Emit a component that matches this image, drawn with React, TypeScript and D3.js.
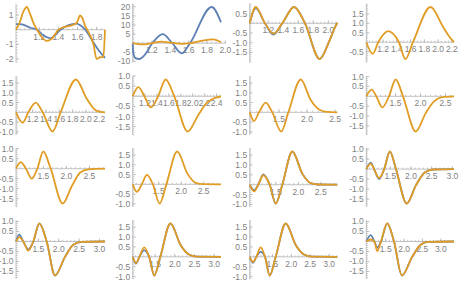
import React, { useEffect, useRef } from 'react';
import * as d3 from 'd3';

type Pt = [number, number];

// row 1
const p1Blue: Pt[] = [[0.957, 0.38], [1.0, 0.38], [1.05, 0.3], [1.1, 0.15], [1.18, 0], [1.245, -0.4], [1.31, -0.58], [1.37, -0.35], [1.42, 0], [1.5, 0.3], [1.59, 0.42], [1.63, 0.3], [1.68, 0], [1.75, -0.7], [1.82, -1.4], [1.887, -1.92]];
const p1Orange: Pt[] = [[0.957, 0], [0.99, 0.4], [1.035, 1.25], [1.069, 1.55], [1.1, 1.15], [1.14, 0.45], [1.178, 0], [1.225, -0.5], [1.278, -0.76], [1.33, -0.62], [1.4, 0], [1.47, 0.2], [1.55, 0.32], [1.595, 0.5], [1.626, 0.97], [1.65, 0.8], [1.68, 0.25], [1.7, 0], [1.765, -0.96], [1.8, -2.0], [1.835, -1.88], [1.87, -1.87], [1.887, 0]];
const p1XTicks = [1.2, 1.4, 1.6, 1.8];
const p1YTicks = [-2, -1, 1];

const p2Blue: Pt[] = [[0.99, 0], [0.995, -5], [1.02, -8.2], [1.06, -8.7], [1.12, -6.5], [1.204, 0], [1.317, 5.0], [1.422, 0], [1.524, -5.6], [1.615, 0], [1.851, 19.9], [1.953, 11.5]];
const p2Orange: Pt[] = [[0.99, 0], [1.088, -0.7], [1.2, 0], [1.3, 0.9], [1.38, 0.5], [1.45, 0], [1.524, -0.35], [1.615, 0], [1.75, 1.4], [1.869, 2.1], [1.953, 0.5]];
const p2XTicks = [1.2, 1.4, 1.6, 1.8, 2.0];
const p2YTicks = [-10, -5, 5, 10, 15, 20];

const p3Blue: Pt[] = [[0.952, 0], [1.032, 0.78], [1.156, 0], [1.267, -0.58], [1.387, 0], [1.543, 0.84], [1.689, 0], [1.885, -1.84], [2.01, -0.95], [2.09, -0.2], [2.12, 0.03]];
const p3Orange: Pt[] = [[0.952, 0], [1.032, 0.84], [1.156, 0], [1.267, -0.53], [1.387, 0], [1.543, 0.84], [1.689, 0], [1.885, -1.84], [2.01, -0.95], [2.09, -0.2], [2.12, 0.03]];
const p3XTicks = [1.2, 1.4, 1.6, 1.8, 2.0];
const p3YTicks = [-1.5, -1.0, -0.5, 0.5];

const p4Orange: Pt[] = [[0.957, 0], [1.05, -0.62], [1.13, 0], [1.273, 0.59], [1.43, 0], [1.525, -0.89], [1.634, 0], [1.89, 1.87], [2.07, 0.82], [2.16, 0.3], [2.23, 0]];
const p4XTicks = [1.2, 1.4, 1.6, 1.8, 2.0, 2.2];
const p4YTicks = [-0.5, 0.5, 1.0, 1.5];

// row 2
const p5Orange: Pt[] = [[0.95, 0], [1.05, -0.53], [1.135, 0], [1.246, 0.5], [1.35, 0], [1.5, -0.98], [1.62, 0], [1.85, 1.68], [2.01, 0.71], [2.136, 0.13], [2.22, 0.02], [2.286, 0]];
const p5XTicks = [1.2, 1.4, 1.6, 1.8, 2.0, 2.2];
const p5YTicks = [-1.0, -0.5, 0.5, 1.0, 1.5];

const p6Orange: Pt[] = [[0.994, 0], [1.088, 0.45], [1.19, 0], [1.3, -0.55], [1.42, 0], [1.547, 0.83], [1.69, 0], [1.915, -1.74], [2.093, -0.92], [2.234, -0.33], [2.373, -0.08], [2.473, -0.01]];
const p6XTicks = [1.2, 1.4, 1.6, 1.8, 2.0, 2.2, 2.4];
const p6YTicks = [-1.5, -1.0, -0.5, 0.5, 1.0];

const p7Orange: Pt[] = [[0.977, 0], [1.054, -0.44], [1.143, 0], [1.263, 0.5], [1.38, 0], [1.54, -0.98], [1.666, 0], [1.888, 1.68], [2.066, 0.63], [2.215, 0.15], [2.36, 0.02], [2.54, 0]];
const p7XTicks = [1.5, 2.0, 2.5];
const p7YTicks = [-1.0, -0.5, 0.5, 1.0, 1.5];

const p8Orange: Pt[] = [[0.916, 0], [1.024, 0.34], [1.116, 0], [1.236, -0.56], [1.37, 0], [1.504, 0.85], [1.65, 0], [1.904, -1.78], [2.104, -0.85], [2.27, -0.26], [2.436, -0.04], [2.67, 0]];
const p8XTicks = [1.5, 2.0, 2.5];
const p8YTicks = [-1.5, -1.0, -0.5, 0.5, 1.0];

// row 3
const p9Orange: Pt[] = [[0.906, 0], [1.008, 0.33], [1.123, 0], [1.247, -0.5], [1.369, 0], [1.5, 0.86], [1.66, 0], [1.921, -1.74], [2.117, -0.88], [2.297, -0.2], [2.478, -0.03], [2.84, 0]];
const p9XTicks = [1.5, 2.0, 2.5];
const p9YTicks = [-1.5, -1.0, -0.5, 0.5, 1.0];

const p10Orange: Pt[] = [[0.92, 0], [1.01, -0.38], [1.123, 0], [1.235, 0.48], [1.37, 0], [1.52, -0.98], [1.67, 0], [1.91, 1.68], [2.136, 0.56], [2.32, 0.08], [2.5, 0.01], [2.886, 0]];
const p10XTicks = [1.5, 2.0, 2.5];
const p10YTicks = [-1.0, -0.5, 0.5, 1.0, 1.5];

const p11Blue: Pt[] = [[0.92, 0], [1.016, -0.28], [1.11, 0], [1.222, 0.52], [1.364, 0], [1.498, -0.95], [1.645, 0], [1.867, 1.68], [2.089, 0.56], [2.276, 0.08], [2.45, 0.01], [2.867, 0]];
const p11Orange: Pt[] = [[0.92, 0], [1.016, -0.34], [1.11, 0], [1.222, 0.48], [1.364, 0], [1.498, -0.95], [1.645, 0], [1.867, 1.68], [2.089, 0.56], [2.276, 0.08], [2.45, 0.01], [2.867, 0]];
const p11XTicks = [1.5, 2.0, 2.5];
const p11YTicks = [-1.0, -0.5, 0.5, 1.0, 1.5];

const p12Blue: Pt[] = [[0.92, 0], [1.027, 0.32], [1.108, 0], [1.23, -0.5], [1.352, 0], [1.49, 0.88], [1.637, 0], [1.896, -1.72], [2.125, -0.79], [2.327, -0.18], [2.53, -0.02], [3.04, 0]];
const p12Orange: Pt[] = [[0.92, 0], [1.027, 0.27], [1.108, 0], [1.23, -0.45], [1.352, 0], [1.49, 0.88], [1.637, 0], [1.896, -1.72], [2.125, -0.79], [2.327, -0.18], [2.53, -0.02], [3.04, 0]];
const p12XTicks = [1.5, 2.0, 2.5, 3.0];
const p12YTicks = [-1.5, -1.0, -0.5, 0.5, 1.0];

// row 4
const p13Blue: Pt[] = [[0.95, 0], [1.031, 0.34], [1.129, 0], [1.252, -0.4], [1.375, 0], [1.523, 0.9], [1.704, 0], [1.908, -1.7], [2.154, -0.77], [2.358, -0.16], [2.564, -0.02], [3.137, 0]];
const p13Orange: Pt[] = [[0.95, 0], [1.031, 0.22], [1.129, 0], [1.252, -0.46], [1.375, 0], [1.523, 0.9], [1.704, 0], [1.908, -1.7], [2.154, -0.77], [2.358, -0.16], [2.564, -0.02], [3.137, 0]];
const p13XTicks = [1.5, 2.0, 2.5, 3.0];
const p13YTicks = [-1.5, -1.0, -0.5, 0.5, 1.0];

const p14Blue: Pt[] = [[0.93, 0], [1.015, -0.34], [1.1, 0], [1.22, 0.33], [1.349, 0], [1.478, -0.94], [1.632, 0], [1.889, 1.68], [2.146, 0.6], [2.36, 0.12], [2.57, 0.01], [3.174, 0]];
const p14Orange: Pt[] = [[0.93, 0], [1.015, -0.31], [1.1, 0], [1.22, 0.48], [1.349, 0], [1.478, -0.94], [1.632, 0], [1.889, 1.68], [2.146, 0.6], [2.36, 0.12], [2.57, 0.01], [3.174, 0]];
const p14XTicks = [1.5, 2.0, 2.5, 3.0];
const p14YTicks = [-1.0, -0.5, 0.5, 1.0, 1.5];

const p15Blue: Pt[] = [[0.9, 0], [0.987, -0.3], [1.075, 0], [1.19, 0.25], [1.305, 0], [1.43, -0.94], [1.588, 0], [1.852, 1.68], [2.117, 0.6], [2.336, 0.12], [2.55, 0.01], [3.217, 0]];
const p15Orange: Pt[] = [[0.9, 0], [0.987, -0.26], [1.075, 0], [1.19, 0.48], [1.305, 0], [1.43, -0.94], [1.588, 0], [1.852, 1.68], [2.117, 0.6], [2.336, 0.12], [2.55, 0.01], [3.217, 0]];
const p15XTicks = [1.5, 2.0, 2.5, 3.0];
const p15YTicks = [-1.0, -0.5, 0.5, 1.0, 1.5];

const p16Blue: Pt[] = [[0.97, 0], [1.09, 0.32], [1.19, 0], [1.27, -0.3], [1.37, 0], [1.54, 0.9], [1.725, 0], [1.94, -1.7], [2.22, -0.77], [2.45, -0.16], [2.65, -0.02], [3.36, 0]];
const p16Orange: Pt[] = [[0.97, 0], [1.09, 0.1], [1.19, 0], [1.27, -0.48], [1.37, 0], [1.54, 0.9], [1.725, 0], [1.94, -1.7], [2.22, -0.77], [2.45, -0.16], [2.65, -0.02], [3.36, 0]];
const p16XTicks = [1.5, 2.0, 2.5, 3.0];
const p16YTicks = [-1.5, -1.0, -0.5, 0.5, 1.0];

interface Panel {
  blue?: Pt[];
  orange: Pt[];
  xTicks: number[];
  yTicks: number[];
}

const panels: Panel[] = [
  { blue: p1Blue, orange: p1Orange, xTicks: p1XTicks, yTicks: p1YTicks },
  { blue: p2Blue, orange: p2Orange, xTicks: p2XTicks, yTicks: p2YTicks },
  { blue: p3Blue, orange: p3Orange, xTicks: p3XTicks, yTicks: p3YTicks },
  { orange: p4Orange, xTicks: p4XTicks, yTicks: p4YTicks },
  { orange: p5Orange, xTicks: p5XTicks, yTicks: p5YTicks },
  { orange: p6Orange, xTicks: p6XTicks, yTicks: p6YTicks },
  { orange: p7Orange, xTicks: p7XTicks, yTicks: p7YTicks },
  { orange: p8Orange, xTicks: p8XTicks, yTicks: p8YTicks },
  { orange: p9Orange, xTicks: p9XTicks, yTicks: p9YTicks },
  { orange: p10Orange, xTicks: p10XTicks, yTicks: p10YTicks },
  { blue: p11Blue, orange: p11Orange, xTicks: p11XTicks, yTicks: p11YTicks },
  { blue: p12Blue, orange: p12Orange, xTicks: p12XTicks, yTicks: p12YTicks },
  { blue: p13Blue, orange: p13Orange, xTicks: p13XTicks, yTicks: p13YTicks },
  { blue: p14Blue, orange: p14Orange, xTicks: p14XTicks, yTicks: p14YTicks },
  { blue: p15Blue, orange: p15Orange, xTicks: p15XTicks, yTicks: p15YTicks },
  { blue: p16Blue, orange: p16Orange, xTicks: p16XTicks, yTicks: p16YTicks },
];

// grid layout (pixels)
const colX = [16, 132.7, 249.7, 366.3];
const colW = [89, 88.3, 87.6, 87.7];
const rowTop = [7, 79.5, 151.5, 223.5];
const plotH = 52;

const BLUE = '#5e81b5';
const ORANGE = '#e19c24';
const AXIS = '#b3b3b3';
const LABEL = '#7f7f7f';
const FONT = 'Liberation Sans, Arial, sans-serif';

const minorTicks = (lo: number, hi: number, step: number) => {
  const out: number[] = [];
  for (let v = Math.ceil(lo / step - 1e-6) * step; v <= hi + 1e-9; v += step) out.push(+v.toFixed(4));
  return out;
};

const fmt = (ticks: number[]) => {
  const ints = ticks.every(t => Number.isInteger(t));
  return (v: number) => (ints ? String(v) : v.toFixed(1));
};

const App: React.FC = () => {
  const svgRef = useRef<SVGSVGElement | null>(null);

  useEffect(() => {
    if (!svgRef.current) return;
    const svg = d3.select(svgRef.current);
    svg.selectAll('*').remove();

    panels.forEach((p, i) => {
      const col = i % 4;
      const row = Math.floor(i / 4);
      const ox = colX[col];
      const w = colW[col];
      const top = rowTop[row];
      const all = [...p.orange, ...(p.blue ?? [])];

      const x = d3.scaleLinear()
        .domain(d3.extent(all, d => d[0]) as [number, number])
        .range([ox, ox + w]);
      const y = d3.scaleLinear()
        .domain(d3.extent(all, d => d[1]) as [number, number])
        .range([top + plotH, top]);

      const g = svg.append('g');
      const y0 = y(0);
      const xEnd = Math.max(ox + w, x(d3.max(p.xTicks)!));
      const yTopPx = top - 3.5;
      const yBotPx = top + plotH + 3.5;

      const xStep = d3.min(d3.pairs(p.xTicks), ([a, b]) => b - a)!;
      const yStep = d3.min(d3.pairs(p.yTicks), ([a, b]) => b - a)!;
      const xMinor = minorTicks(x.invert(ox), x.invert(xEnd), xStep / (xStep < 0.3 ? 4 : 5));
      const yMinor = minorTicks(y.invert(yBotPx), y.invert(yTopPx), yStep / 5);

      // axes
      g.append('line')
        .attr('x1', ox).attr('x2', xEnd)
        .attr('y1', y0).attr('y2', y0)
        .attr('stroke', AXIS).attr('stroke-width', 0.8);
      g.append('line')
        .attr('x1', ox).attr('x2', ox)
        .attr('y1', yTopPx).attr('y2', yBotPx)
        .attr('stroke', AXIS).attr('stroke-width', 0.8);

      g.append('g').selectAll('line')
        .data(xMinor)
        .join('line')
          .attr('x1', d => x(d)).attr('x2', d => x(d))
          .attr('y1', y0).attr('y2', y0 - 1.6)
          .attr('stroke', AXIS).attr('stroke-width', 0.7);
      g.append('g').selectAll('line')
        .data(p.xTicks)
        .join('line')
          .attr('x1', d => x(d)).attr('x2', d => x(d))
          .attr('y1', y0).attr('y2', y0 - 3)
          .attr('stroke', AXIS).attr('stroke-width', 0.8);

      g.append('g').selectAll('line')
        .data(yMinor)
        .join('line')
          .attr('x1', ox).attr('x2', ox + 1.6)
          .attr('y1', d => y(d)).attr('y2', d => y(d))
          .attr('stroke', AXIS).attr('stroke-width', 0.7);
      g.append('g').selectAll('line')
        .data(p.yTicks)
        .join('line')
          .attr('x1', ox).attr('x2', ox + 3)
          .attr('y1', d => y(d)).attr('y2', d => y(d))
          .attr('stroke', AXIS).attr('stroke-width', 0.8);

      const fx = fmt(p.xTicks);
      const fy = fmt(p.yTicks);
      g.append('g')
        .attr('font-family', FONT).attr('font-size', 8.5).attr('fill', LABEL)
        .attr('text-anchor', 'middle')
        .selectAll('text')
        .data(p.xTicks)
        .join('text')
          .attr('x', d => x(d))
          .attr('y', y0 + 10)
          .text(d => fx(d));
      g.append('g')
        .attr('font-family', FONT).attr('font-size', 8.5).attr('fill', LABEL)
        .attr('text-anchor', 'end')
        .selectAll('text')
        .data(p.yTicks)
        .join('text')
          .attr('x', ox - 2.5)
          .attr('y', d => y(d))
          .attr('dy', '0.35em')
          .text(d => fy(d));

      const line = d3.line<Pt>()
        .x(d => x(d[0]))
        .y(d => y(d[1]))
        .curve(d3.curveMonotoneX);

      if (p.blue) {
        g.append('path')
          .attr('d', line(p.blue))
          .attr('fill', 'none')
          .attr('stroke', BLUE)
          .attr('stroke-width', 1.8)
          .attr('stroke-linejoin', 'round');
      }
      g.append('path')
        .attr('d', line(p.orange))
        .attr('fill', 'none')
        .attr('stroke', ORANGE)
        .attr('stroke-width', 1.8)
        .attr('stroke-linejoin', 'round');
    });
  }, []);

  return (
    <svg
      ref={svgRef}
      width={459}
      height={284}
      style={{ position: 'absolute', left: 0, top: 0, background: '#fff' }}
    />
  );
};

export default App;
